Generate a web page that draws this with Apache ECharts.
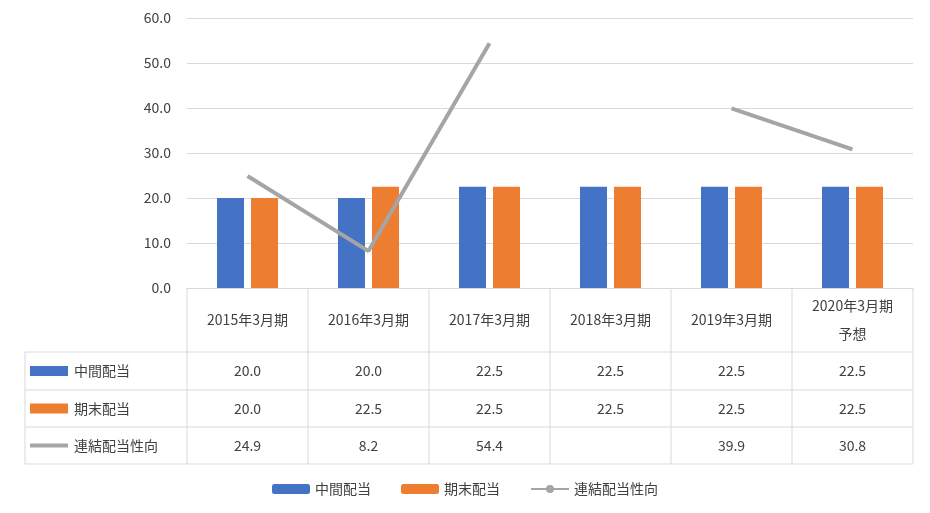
<!DOCTYPE html>
<html><head><meta charset="utf-8">
<script src="https://cdn.jsdelivr.net/npm/echarts@6/dist/echarts.min.js"></script>
<style>html,body{margin:0;padding:0;background:#fff}#c{width:930px;height:513px}</style>
</head><body><div id="c"></div>
<script>
const categories = ['2015年3月期','2016年3月期','2017年3月期','2018年3月期','2019年3月期','2020年3月期\n予想'];
const interim = [20.0,20.0,22.5,22.5,22.5,22.5];
const yearEnd = [20.0,22.5,22.5,22.5,22.5,22.5];
const payout = [24.9,8.2,54.4,null,39.9,30.8];
const seriesNames = ['中間配当','期末配当','連結配当性向'];
const colors = ['#4472c4','#ed7d31','#a5a5a5'];

const chart = echarts.init(document.getElementById('c'));
const L=187,R=913,T=18,B=288;
const cw=(R-L)/categories.length;
const rows=[352,390,427,464];
const font='"Noto Sans CJK JP","Noto Sans",sans-serif';
const tc='#404040', lc='#d9d9d9';
const g=[];
// table lines
for(let i=0;i<=categories.length;i++){
  const x=L+i*cw;
  g.push({type:'line',shape:{x1:x,y1:B,x2:x,y2:rows[3]},style:{stroke:lc,lineWidth:1}});
}
g.push({type:'line',shape:{x1:25,y1:rows[0],x2:25,y2:rows[3]},style:{stroke:lc,lineWidth:1}});
rows.forEach(y=>g.push({type:'line',shape:{x1:25,y1:y,x2:R,y2:y},style:{stroke:lc,lineWidth:1}}));
// header
categories.forEach((c,i)=>g.push({type:'text',x:L+(i+0.5)*cw,y:(B+rows[0])/2,style:{text:c,font:'14px '+font,fill:tc,align:'center',verticalAlign:'middle',lineHeight:28}}));
const data=[interim,yearEnd,payout];
data.forEach((arr,r)=>{
  const cy=(rows[r]+rows[r+1])/2;
  if(r<2) g.push({type:'rect',shape:{x:30,y:cy-5,width:38,height:10},style:{fill:colors[r]}});
  else g.push({type:'line',shape:{x1:30,y1:cy,x2:68,y2:cy},style:{stroke:colors[r],lineWidth:4}});
  g.push({type:'text',x:74,y:cy,style:{text:seriesNames[r],font:'14px '+font,fill:tc,verticalAlign:'middle'}});
  arr.forEach((v,i)=>{ if(v!=null) g.push({type:'text',x:L+(i+0.5)*cw,y:cy,style:{text:v.toFixed(1),font:'14px '+font,fill:tc,align:'center',verticalAlign:'middle'}});});
});
chart.setOption({
  animation:false,
  textStyle:{fontFamily:font},
  grid:{left:L,right:930-R,top:T,bottom:513-B},
  legend:{bottom:12,left:'center',itemWidth:38,itemHeight:10,itemGap:30,textStyle:{fontSize:14,color:tc,fontFamily:font},data:seriesNames},
  xAxis:{type:'category',data:categories,axisTick:{show:false},axisLabel:{show:false},axisLine:{lineStyle:{color:lc}}},
  yAxis:{type:'value',min:0,max:60,interval:10,axisLabel:{formatter:v=>v.toFixed(1),fontSize:14,color:tc,margin:16},splitLine:{lineStyle:{color:lc}}},
  series:[
    {name:seriesNames[0],type:'bar',data:interim,barWidth:27,barGap:'26%',itemStyle:{color:colors[0]}},
    {name:seriesNames[1],type:'bar',data:yearEnd,barWidth:27,itemStyle:{color:colors[1]}},
    {name:seriesNames[2],type:'line',data:payout,symbol:'none',connectNulls:false,lineStyle:{color:colors[2],width:4},itemStyle:{color:colors[2]}}
  ],
  graphic:g
});
</script></body></html>
